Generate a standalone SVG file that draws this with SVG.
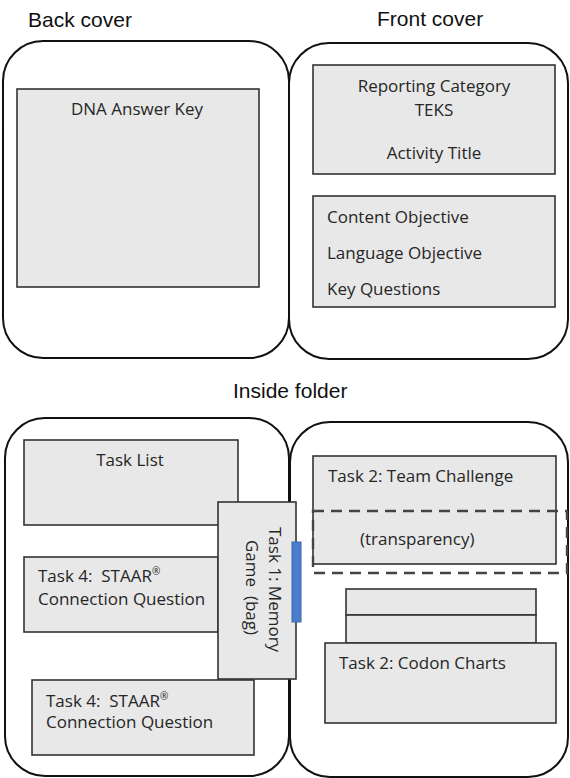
<svg xmlns="http://www.w3.org/2000/svg" width="570" height="778" viewBox="0 0 570 778">
<style>
.bg{fill:#ffffff}
.panel{fill:#ffffff;stroke:#111;stroke-width:2}
.box{fill:#e8e8e8;stroke:#333;stroke-width:1.6}
.dash{fill:none;stroke:#444;stroke-width:2.4;stroke-dasharray:11 7}
.title{font-family:"Liberation Sans",Arial,sans-serif;font-size:21px;fill:#111}
.lbl{font-family:"Open Sans","Noto Sans",sans-serif;font-size:17px;fill:#262626;white-space:pre}
.c{text-anchor:middle}
.sup{font-size:10px}
</style>
<rect class="bg" x="0" y="0" width="570" height="778"/>
<g id="titles">
<text class="title" x="28" y="27">Back cover</text>
<text class="title" x="377" y="26">Front cover</text>
<text class="title" x="233" y="398">Inside folder</text>
</g>
<g id="back-cover">
<rect class="panel" x="3" y="41" width="286" height="317" rx="40" ry="40"/>
</g>
<g id="front-cover">
<rect class="panel" x="289" y="43" width="279" height="316" rx="40" ry="40"/>
</g>
<g id="dna-answer-key">
<rect class="box" x="17" y="89" width="242" height="198"/>
<text class="lbl c" x="137" y="115">DNA Answer Key</text>
</g>
<g id="reporting">
<rect class="box" x="313" y="65" width="242" height="109"/>
<text class="lbl c" x="434" y="92">Reporting Category</text>
<text class="lbl c" x="434" y="116">TEKS</text>
<text class="lbl c" x="434" y="159">Activity Title</text>
</g>
<g id="objectives">
<rect class="box" x="313" y="196" width="242" height="111"/>
<text class="lbl" x="327" y="223">Content Objective</text>
<text class="lbl" x="327" y="259">Language Objective</text>
<text class="lbl" x="327" y="295">Key Questions</text>
</g>
<g id="inside-left">
<rect class="panel" x="5" y="418" width="284" height="358" rx="40" ry="40"/>
</g>
<g id="inside-right">
<rect class="panel" x="290" y="422" width="278" height="355" rx="40" ry="40"/>
</g>
<g id="task-list">
<rect class="box" x="24" y="440" width="214" height="85"/>
<text class="lbl c" x="130" y="466">Task List</text>
</g>
<g id="task4-a">
<rect class="box" x="24" y="557" width="194" height="75"/>
<text class="lbl" x="38" y="582">Task 4:  STAAR<tspan class="sup" dy="-7">®</tspan></text>
<text class="lbl" x="38" y="605">Connection Question</text>
</g>
<g id="task4-b">
<rect class="box" x="32" y="680" width="222" height="75"/>
<text class="lbl" x="46" y="707">Task 4:  STAAR<tspan class="sup" dy="-7">®</tspan></text>
<text class="lbl" x="46" y="728">Connection Question</text>
</g>
<g id="task1-memory">
<rect class="box" x="218" y="502" width="78" height="177"/>
<rect x="292" y="542" width="9" height="80" fill="#4a7dcc" stroke="#3a66aa" stroke-width="1"/>
<text class="lbl" transform="translate(269,527) rotate(90)">Task 1: Memory</text>
<text class="lbl" transform="translate(246,540) rotate(90)">Game  (bag)</text>
</g>
<g id="task2-team">
<rect class="box" x="313" y="456" width="243" height="108"/>
<text class="lbl" x="328" y="482">Task 2: Team Challenge</text>
</g>
<g id="transparency">
<rect class="dash" x="313" y="511" width="254" height="62"/>
<text class="lbl" x="360" y="545">(transparency)</text>
</g>
<g id="codon-stack">
<rect class="box" x="346" y="589" width="190" height="26"/>
<rect class="box" x="346" y="615" width="190" height="28"/>
</g>
<g id="task2-codon">
<rect class="box" x="325" y="643" width="231" height="80"/>
<text class="lbl" x="339" y="669">Task 2: Codon Charts</text>
</g>
<g id="connectors"></g>
</svg>
